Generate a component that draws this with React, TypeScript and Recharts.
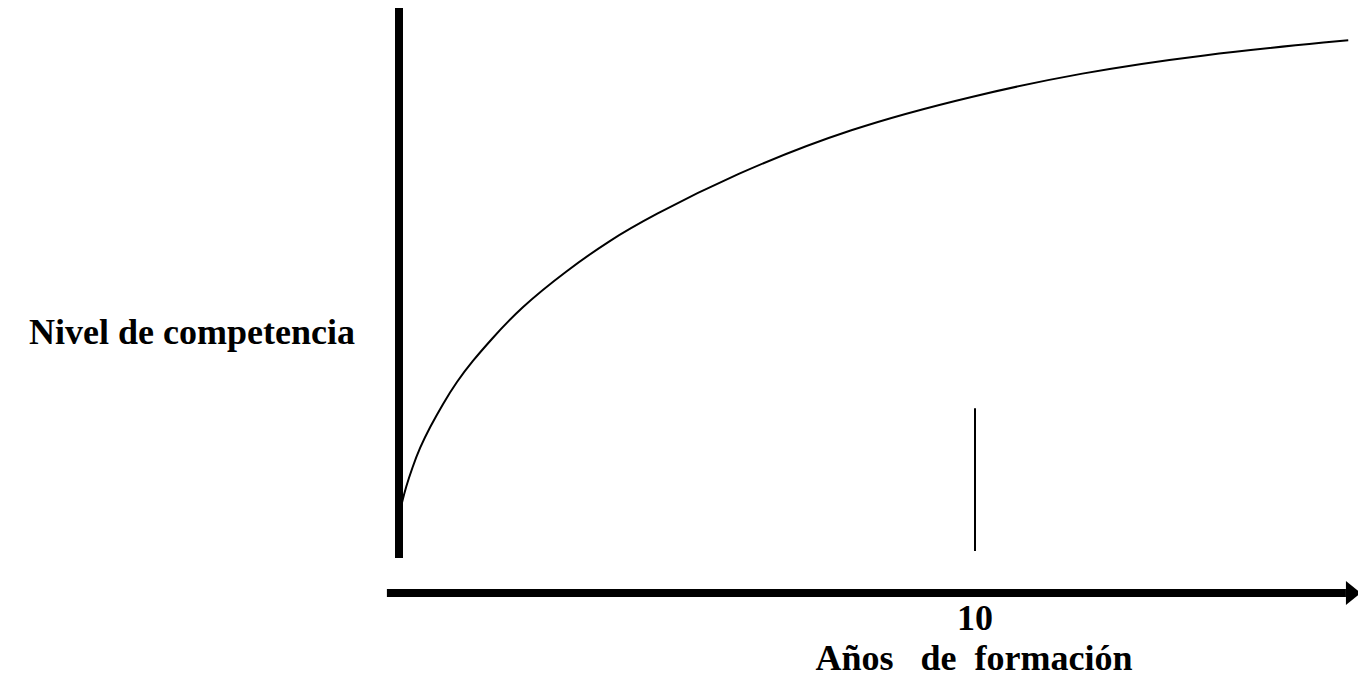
import { LineChart, Line, XAxis, YAxis, ReferenceLine } from 'recharts'

// years of training vs. competence level (curve)
const years = [0, 0.05, 0.12, 0.23, 0.36, 0.54, 0.76, 1.0, 1.28, 1.58, 2.1, 2.92, 3.66, 4.36, 5.8, 7.83, 10, 11.82, 13.9, 16.48]
const competence = [13.3, 15.4, 18.1, 21.4, 24.8, 28.4, 32.3, 36.1, 39.7, 43.1, 48.7, 55.2, 60.3, 64.3, 71.5, 79.5, 85.1, 88.9, 92.0, 94.5]
const xTicks = [10]
const marker = { x: 10, from: 7.2, to: 31.6 }
const yAxisLine = { from: 6.0, to: 100 }

const data = years.map((y, i) => ({ year: y, level: competence[i] }))

const font = "'Liberation Serif', 'Times New Roman', serif"

function Arrow(props: any) {
  const { x1, y1, x2, y2 } = props
  const head = 15
  return (
    <g>
      <line x1={x1} y1={y1} x2={x2 - head} y2={y2} stroke='#000' strokeWidth={8} />
      <polygon points={`${x2 - head},${y2 - 12} ${x2},${y2} ${x2 - head},${y2 + 12}`} fill='#000' />
    </g>
  )
}

function YearTick(props: any) {
  const { x, y, payload } = props
  return (
    <g>
      <text x={x} y={y + 29} textAnchor='middle' fontFamily={font} fontWeight='bold' fontSize={36} fill='#000'>
        {payload.value}
      </text>
      <text
        x={x - 1}
        y={y + 69}
        textAnchor='middle'
        fontFamily={font}
        fontWeight='bold'
        fontSize={36}
        fill='#000'
        style={{ whiteSpace: 'pre' }}
      >
        {'Años   de  formación'}
      </text>
    </g>
  )
}

export default function App() {
  return (
    <div style={{ position: 'absolute', left: 0, top: 0, width: 1358, height: 682, background: '#fff' }}>
      <LineChart width={1358} height={682} data={data} margin={{ top: 8, right: 8.6, bottom: 0, left: 0 }}>
        <XAxis
          dataKey='year'
          type='number'
          domain={[0, 16.5]}
          ticks={xTicks}
          height={89}
          axisLine={false}
          tickLine={false}
          tick={<YearTick />}
          interval={0}
        />
        <YAxis
          type='number'
          domain={[0, 100]}
          width={399}
          axisLine={false}
          tickLine={false}
          tick={false}
          label={{
            content: (p: any) => (
              <text
                x={p.viewBox.x + p.viewBox.width - 44}
                y={344}
                textAnchor='end'
                fontFamily={font}
                fontWeight='bold'
                fontSize={36}
                fill='#000'
              >
                Nivel de competencia
              </text>
            )
          }}
        />
        <ReferenceLine
          segment={[{ x: 0, y: yAxisLine.from }, { x: 0, y: yAxisLine.to }]}
          stroke='#000'
          strokeWidth={8}
          ifOverflow='visible'
        />
        <ReferenceLine
          segment={[{ x: -0.21, y: 0 }, { x: 16.7, y: 0 }]}
          ifOverflow='visible'
          shape={<Arrow />}
        />
        <ReferenceLine
          segment={[{ x: marker.x, y: marker.from }, { x: marker.x, y: marker.to }]}
          stroke='#000'
          strokeWidth={2}
          ifOverflow='visible'
        />
        <Line
          type='basis'
          dataKey='level'
          stroke='#000'
          strokeWidth={2}
          dot={false}
          isAnimationActive={false}
        />
      </LineChart>
    </div>
  )
}
